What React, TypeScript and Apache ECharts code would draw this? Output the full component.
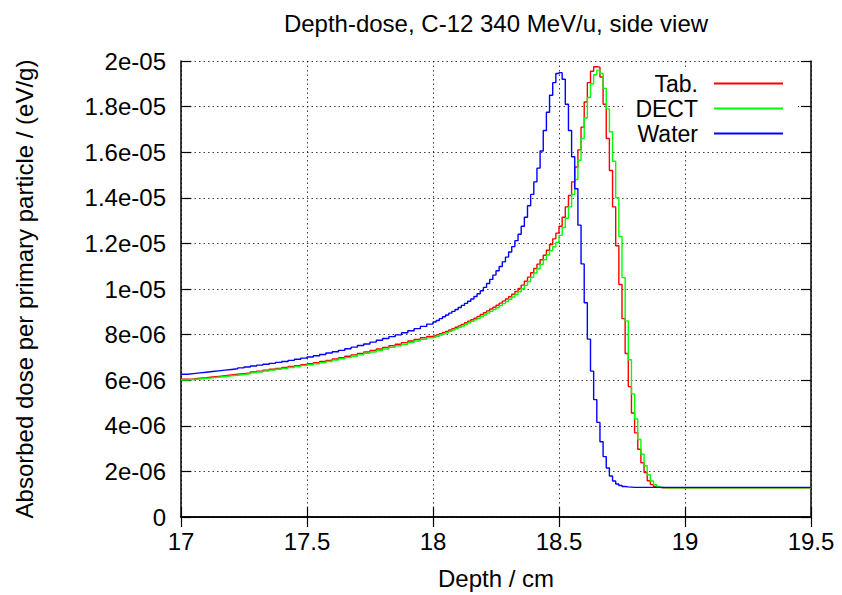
import React, { useEffect, useRef } from "react";
import * as echarts from "echarts";

// Histogram bin layout along depth (cm): [first bin start, bin width, number of bins]
const binSegments: [number, number, number][] = [
  [17.0, 0.025, 40],
  [18.0, 0.0125, 76],
  [18.95, 0.05, 11],
];
const depthEnd = 19.5;

// Absorbed dose per primary particle, in units of 1e-6 eV/g, one value per bin
const tabDose = [
  // 17.000 - 18.000
  6.04, 6.06, 6.09, 6.11, 6.14, 6.17, 6.2, 6.23, 6.26, 6.29,
  6.32, 6.36, 6.4, 6.44, 6.48, 6.52, 6.56, 6.6, 6.64, 6.68,
  6.72, 6.77, 6.82, 6.87, 6.93, 6.99, 7.05, 7.11, 7.17, 7.24,
  7.3, 7.37, 7.44, 7.51, 7.58, 7.65, 7.72, 7.79, 7.86, 7.92,
  // 18.000 - 18.950
  7.95, 7.99, 8.04, 8.09, 8.14, 8.2, 8.26, 8.32, 8.38, 8.45, 8.52, 8.59,
  8.65, 8.72, 8.8, 8.88, 8.96, 9.04, 9.12, 9.2, 9.29, 9.38, 9.47, 9.56, 9.66, 9.77, 9.89,
  10.02, 10.17, 10.34, 10.52, 10.71, 10.9, 11.09, 11.28, 11.48, 11.7,
  11.95, 12.2, 12.45, 12.75, 13.15, 13.6, 14.1, 14.7, 15.35, 16.1,
  17.1, 18.2, 19.05, 19.55, 19.75, 19.73, 19.3, 18.1, 16.6, 15.2,
  13.6, 11.9, 10.2, 8.7, 7.17, 5.72, 4.56, 3.69, 2.97, 2.38,
  1.95, 1.59, 1.42, 1.34, 1.3, 1.28, 1.28, 1.28, 1.28,
  // 18.950 - 19.500
  1.28, 1.28, 1.28, 1.28, 1.28, 1.28, 1.28, 1.28, 1.28, 1.28, 1.28,
];

const dectDose = [
  6.01, 6.03, 6.05, 6.08, 6.1, 6.13, 6.16, 6.19, 6.22, 6.25,
  6.28, 6.32, 6.36, 6.4, 6.44, 6.48, 6.52, 6.56, 6.6, 6.64,
  6.68, 6.72, 6.77, 6.82, 6.88, 6.94, 6.99, 7.05, 7.11, 7.18,
  7.24, 7.3, 7.37, 7.44, 7.51, 7.58, 7.65, 7.72, 7.79, 7.86,
  7.89, 7.93, 7.98, 8.03, 8.08, 8.14, 8.2, 8.26, 8.32, 8.38, 8.45, 8.52,
  8.58, 8.65, 8.72, 8.79, 8.86, 8.94, 9.02, 9.1, 9.18, 9.27, 9.36, 9.45, 9.55, 9.65, 9.76,
  9.88, 10.01, 10.16, 10.33, 10.51, 10.7, 10.89, 11.08, 11.28, 11.49,
  11.68, 11.85, 12.05, 12.35, 12.7, 13.1, 13.6, 14.15, 14.8, 15.65,
  16.6, 17.5, 18.4, 19.0, 19.4, 19.6, 19.45, 18.8, 17.9, 16.9,
  15.6, 14.0, 12.3, 10.5, 8.6, 6.9, 5.4, 4.3, 3.4, 2.75,
  2.25, 1.85, 1.58, 1.42, 1.34, 1.3, 1.28, 1.28, 1.28,
  1.28, 1.28, 1.28, 1.28, 1.28, 1.28, 1.28, 1.28, 1.28, 1.28, 1.28,
];

const waterDose = [
  6.26, 6.29, 6.32, 6.35, 6.38, 6.41, 6.44, 6.47, 6.5, 6.54,
  6.58, 6.62, 6.66, 6.7, 6.74, 6.78, 6.82, 6.87, 6.92, 6.97,
  7.02, 7.07, 7.13, 7.19, 7.25, 7.31, 7.38, 7.45, 7.52, 7.59,
  7.67, 7.75, 7.83, 7.91, 7.99, 8.08, 8.17, 8.26, 8.36, 8.46,
  8.55, 8.62, 8.7, 8.78, 8.86, 8.94, 9.02, 9.1, 9.19, 9.28,
  9.37, 9.46, 9.56, 9.67, 9.79, 9.92, 10.07, 10.24, 10.42, 10.61,
  10.8, 10.99, 11.19, 11.4, 11.62, 11.86, 12.12, 12.4, 12.75, 13.15,
  13.65, 14.15, 14.7, 15.3, 16.05, 16.95, 17.75, 18.5, 19.05, 19.45,
  19.49, 19.2, 18.1, 16.95, 15.8, 14.4, 12.8, 11.1, 9.4, 7.8,
  6.4, 5.15, 4.15, 3.3, 2.65, 2.15, 1.8, 1.58, 1.45, 1.38,
  1.34, 1.32, 1.31, 1.3, 1.3, 1.3, 1.3, 1.3, 1.3, 1.3,
  1.3, 1.3, 1.3, 1.3, 1.3, 1.3,
  1.3, 1.3, 1.3, 1.3, 1.3, 1.3, 1.3, 1.3, 1.3, 1.3, 1.3,
];

const seriesNames = ["Tab.", "DECT", "Water"];
const seriesColors = ["#ff0000", "#00ff00", "#0000ff"];

const xTickLabels = ["17", "17.5", "18", "18.5", "19", "19.5"];
const yTickLabels = ["0", "2e-06", "4e-06", "6e-06", "8e-06", "1e-05", "1.2e-05", "1.4e-05", "1.6e-05", "1.8e-05", "2e-05"];

const titleText = "Depth-dose, C-12 340 MeV/u, side view";
const xName = "Depth / cm";
const yName = "Absorbed dose per primary particle / (eV/g)";

const FONT = "'Liberation Sans', Arial, Helvetica, sans-serif";
const FS = 24;

function binStarts(): number[] {
  const out: number[] = [];
  binSegments.forEach(([start, width, n]) => {
    for (let i = 0; i < n; i++) out.push(+(start + i * width).toFixed(5));
  });
  return out;
}

function toSteps(values: number[]): [number, number][] {
  const starts = binStarts();
  const pts: [number, number][] = starts.map((x, i) => [x, values[i] * 1e-6]);
  pts.push([depthEnd, values[values.length - 1] * 1e-6]);
  return pts;
}

export default function App() {
  const ref = useRef<HTMLDivElement>(null);

  useEffect(() => {
    if (!ref.current) return;
    const chart = echarts.init(ref.current, null, { renderer: "svg" });
    const dosesList = [tabDose, dectDose, waterDose];

    const axisLineStyle = { color: "#000", width: 1.5 };
    const tickStyle = { show: true, inside: true, length: 10, lineStyle: { color: "#000", width: 1.2 } };
    const gridLine = { show: true, lineStyle: { color: "#000", type: [1.5, 3], width: 1, opacity: 0.75 } };

    chart.setOption({
      animation: false,
      backgroundColor: "#ffffff",
      textStyle: { fontFamily: FONT, color: "#000" },
      title: {
        text: titleText,
        left: 496,
        top: 11,
        textAlign: "center",
        padding: 0,
        textStyle: { fontFamily: FONT, fontSize: FS, fontWeight: "normal", color: "#000" },
      },
      legend: {
        data: seriesNames,
        orient: "vertical",
        align: "right",
        right: 44,
        top: 70,
        padding: [2, 15, 4, 12],
        itemGap: 2,
        itemWidth: 69,
        itemHeight: 2,
        icon: "rect",
        backgroundColor: "#ffffff",
        textStyle: { fontFamily: FONT, fontSize: 23, color: "#000", lineHeight: 22, padding: [0, 11, 0, 0] },
      },
      grid: { left: 181, right: 31, top: 61, bottom: 74 },
      xAxis: [
        {
          type: "value",
          min: 17,
          max: 19.5,
          interval: 0.5,
          position: "bottom",
          axisLine: { show: true, lineStyle: axisLineStyle },
          axisTick: tickStyle,
          splitLine: gridLine,
          axisLabel: {
            show: true,
            margin: 12,
            fontFamily: FONT,
            fontSize: FS,
            color: "#000",
            formatter: (v: number) => xTickLabels[Math.round((v - 17) / 0.5)] ?? "",
          },
          name: xName,
          nameLocation: "middle",
          nameGap: 49,
          nameTextStyle: { fontFamily: FONT, fontSize: FS, color: "#000" },
        },
        {
          type: "value",
          min: 17,
          max: 19.5,
          interval: 0.5,
          position: "top",
          axisLine: { show: true, lineStyle: axisLineStyle },
          axisTick: tickStyle,
          splitLine: { show: false },
          axisLabel: { show: false },
        },
      ],
      yAxis: [
        {
          type: "value",
          min: 0,
          max: 2e-5,
          interval: 2e-6,
          position: "left",
          axisLine: { show: true, lineStyle: axisLineStyle },
          axisTick: tickStyle,
          splitLine: gridLine,
          axisLabel: {
            show: true,
            margin: 15,
            fontFamily: FONT,
            fontSize: FS,
            color: "#000",
            formatter: (v: number) => yTickLabels[Math.round(v / 2e-6)] ?? "",
          },
          name: yName,
          nameLocation: "middle",
          nameRotate: 90,
          nameGap: 145,
          nameTextStyle: { fontFamily: FONT, fontSize: FS, color: "#000" },
        },
        {
          type: "value",
          min: 0,
          max: 2e-5,
          interval: 2e-6,
          position: "right",
          axisLine: { show: true, lineStyle: axisLineStyle },
          axisTick: tickStyle,
          splitLine: { show: false },
          axisLabel: { show: false },
        },
      ],
      series: seriesNames.map((name, i) => ({
        name,
        type: "line",
        xAxisIndex: 0,
        yAxisIndex: 0,
        step: "end",
        symbol: "none",
        showSymbol: false,
        data: toSteps(dosesList[i]),
        lineStyle: { color: seriesColors[i], width: 1.4 },
        itemStyle: { color: seriesColors[i] },
        emphasis: { disabled: true },
        z: 2 + i,
      })),
    });

    return () => chart.dispose();
  }, []);

  return (
    <div
      ref={ref}
      style={{ position: "absolute", left: 0, top: 0, width: 842, height: 595, background: "#fff" }}
    />
  );
}
